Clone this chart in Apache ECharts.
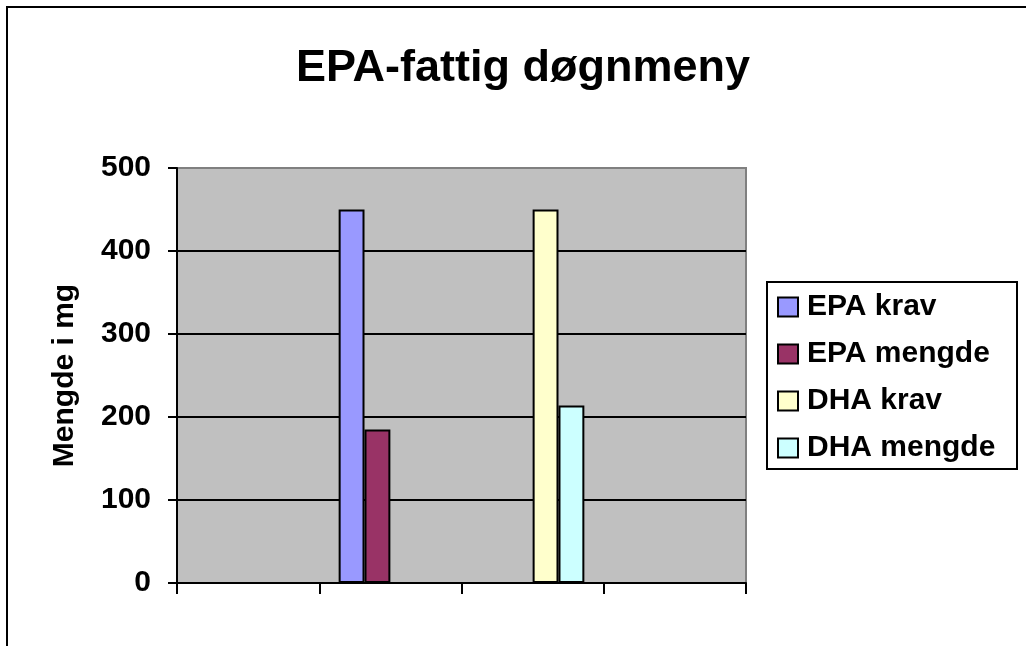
<!DOCTYPE html>
<html>
<head>
<meta charset="utf-8">
<title>EPA-fattig døgnmeny</title>
<script src="https://cdn.jsdelivr.net/npm/echarts@6/dist/echarts.min.js"></script>
<style>
  html, body { margin: 0; padding: 0; background: #ffffff; }
  #chart { width: 1026px; height: 646px; }
</style>
</head>
<body>
<div id="chart"></div>
<script>
// Four unnamed category slots; EPA values sit in the second, DHA values in the third.
const categories = ['', '', '', ''];
const epaKrav    = [null, 450, null, null];
const epaMengde  = [null, 185, null, null];
const dhaKrav    = [null, null, 450, null];
const dhaMengde  = [null, null, 214, null];
const seriesNames = ['EPA krav', 'EPA mengde', 'DHA krav', 'DHA mengde'];
const yTicks = [0, 100, 200, 300, 400, 500];

const FONT = 'Arial, "Liberation Sans", sans-serif';
const colors = ['#9999FF', '#993366', '#FFFFCC', '#CCFFFF'];
const values = [epaKrav, epaMengde, dhaKrav, dhaMengde];

const chart = echarts.init(document.getElementById('chart'), null, { renderer: 'canvas' });

const series = seriesNames.map((name, i) => ({
  name: name,
  type: 'bar',
  data: values[i],
  barGap: '0%',
  barCategoryGap: '27.27%',
  itemStyle: { color: colors[i], borderColor: '#000000', borderWidth: 2 },
  emphasis: { disabled: true },
  animation: false
}));

chart.setOption({
  animation: false,
  backgroundColor: '#ffffff',
  grid: {
    left: 177, right: 280, top: 168, bottom: 63,
    show: true,
    backgroundColor: '#C0C0C0',
    borderColor: '#808080',
    borderWidth: 2
  },
  xAxis: {
    type: 'category',
    data: categories,
    boundaryGap: true,
    axisLine: { show: true, lineStyle: { color: '#000000', width: 2 } },
    axisTick: { show: true, alignWithLabel: false, length: 11, lineStyle: { color: '#000000', width: 2 } },
    axisLabel: { show: true, color: '#000000' },
    splitLine: { show: false }
  },
  yAxis: {
    type: 'value',
    min: yTicks[0],
    max: yTicks[yTicks.length - 1],
    interval: 100,
    name: 'Mengde i mg',
    nameLocation: 'middle',
    nameGap: 97,
    nameRotate: 90,
    nameTextStyle: { color: '#000000', fontFamily: FONT, fontWeight: 'bold', fontSize: 30 },
    axisLine: { show: true, lineStyle: { color: '#000000', width: 2 } },
    axisTick: { show: true, inside: false, length: 9, lineStyle: { color: '#000000', width: 2 } },
    axisLabel: { color: '#000000', fontFamily: FONT, fontWeight: 'bold', fontSize: 30, margin: 26 },
    splitLine: {
      show: true,
      lineStyle: { color: ['#000000', '#000000', '#000000', '#000000', '#000000', '#808080'], width: 2 }
    }
  },
  legend: {
    orient: 'vertical',
    left: 777,
    top: 292,
    padding: 0,
    itemWidth: 20,
    itemHeight: 19,
    itemGap: 17,
    icon: 'rect',
    selectedMode: false,
    data: seriesNames,
    textStyle: {
      color: '#000000', fontFamily: FONT, fontWeight: 'bold', fontSize: 30,
      lineHeight: 30, padding: [0, 0, 0, 4]
    }
  },
  graphic: [
    {
      type: 'rect',
      silent: true,
      z: 0,
      shape: { x: 7, y: 7, width: 1100, height: 700 },
      style: { fill: 'none', stroke: '#000000', lineWidth: 2 }
    },
    {
      type: 'rect',
      silent: true,
      z: 0,
      shape: { x: 767, y: 282, width: 250, height: 187 },
      style: { fill: 'none', stroke: '#000000', lineWidth: 2 }
    },
    {
      type: 'text',
      silent: true,
      x: 523,
      y: 69,
      style: {
        text: 'EPA-fattig døgnmeny',
        fill: '#000000',
        font: 'bold 45px ' + FONT,
        align: 'center',
        verticalAlign: 'middle'
      }
    }
  ],
  series: series
});
</script>
</body>
</html>
